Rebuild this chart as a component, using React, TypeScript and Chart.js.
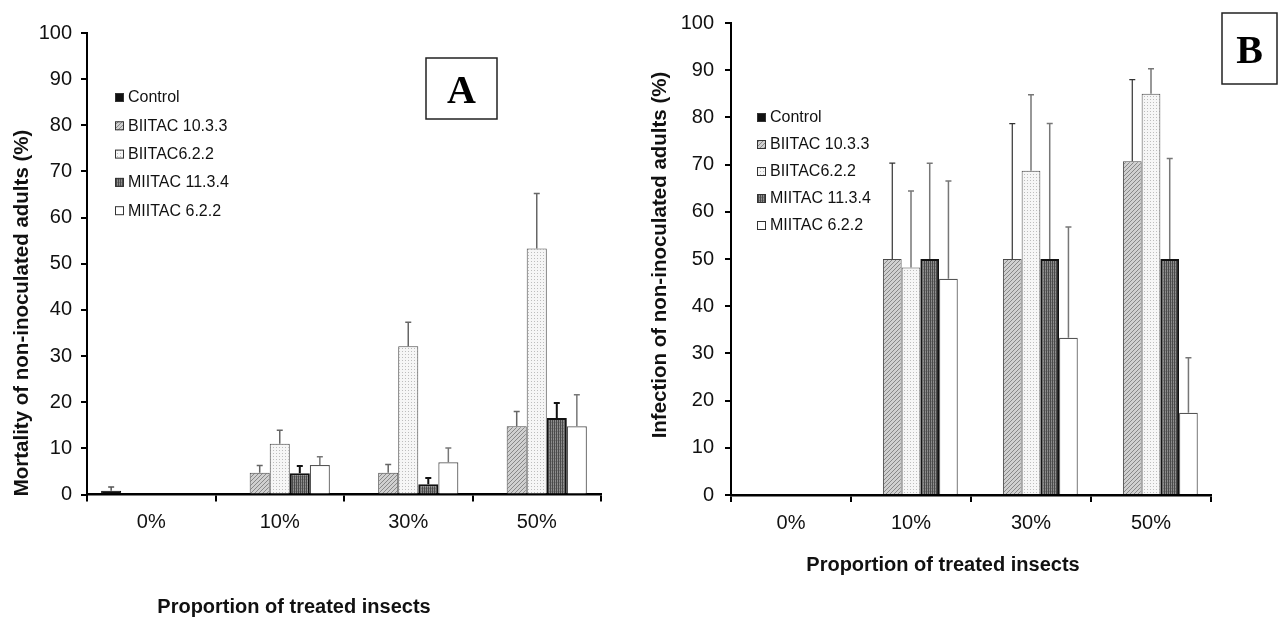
import React, { useEffect, useRef } from "react";
import { Chart, registerables } from "chart.js";

Chart.register(...registerables);

// ---- data ----
const categories = ["0%", "10%", "30%", "50%"];
const seriesNames = ["Control", "BIITAC 10.3.3", "BIITAC6.2.2", "MIITAC 11.3.4", "MIITAC 6.2.2"];
const yTickValues = [0, 10, 20, 30, 40, 50, 60, 70, 80, 90, 100];

// Panel A: mortality (%), mean and upper error
const mortControl = [0.8, 0, 0, 0];
const mortControlErr = [0.8, null, null, null];
const mortB1033 = [0, 4.7, 4.7, 14.8];
const mortB1033Err = [null, 1.6, 1.8, 3.2];
const mortB622 = [0, 11.0, 32.1, 53.3];
const mortB622Err = [null, 2.9, 5.2, 11.9];
const mortM1134 = [0, 4.6, 2.2, 16.6];
const mortM1134Err = [null, 1.6, 1.4, 3.2];
const mortM622 = [0, 6.4, 7.0, 14.8];
const mortM622Err = [null, 1.8, 3.1, 6.8];

// Panel B: infection (%), mean and upper error
const infControl = [0, 0, 0, 0];
const infControlErr = [null, null, null, null];
const infB1033 = [0, 50, 50, 70.7];
const infB1033Err = [null, 20.3, 28.7, 17.3];
const infB622 = [0, 48.2, 68.7, 85.0];
const infB622Err = [null, 16.2, 16.1, 5.3];
const infM1134 = [0, 50, 50, 50];
const infM1134Err = [null, 20.3, 28.7, 21.3];
const infM622 = [0, 45.8, 33.3, 17.4];
const infM622Err = [null, 20.7, 23.5, 11.7];

const SANS = "'Liberation Sans', Arial, sans-serif";
const SERIF = "'Liberation Serif', 'Times New Roman', serif";
const H = 639;

// ---- fill patterns ----
function makePattern(kind: string): CanvasPattern | string {
  const c = document.createElement("canvas");
  const g = c.getContext("2d")!;
  if (kind === "solid") return "#111111";
  if (kind === "white") return "#ffffff";
  if (kind === "hatch") {
    c.width = 4;
    c.height = 4;
    g.fillStyle = "#d0d0d0";
    g.fillRect(0, 0, 4, 4);
    g.strokeStyle = "#888888";
    g.lineWidth = 1;
    g.beginPath();
    g.moveTo(0, 4);
    g.lineTo(4, 0);
    g.moveTo(-1, 1);
    g.lineTo(1, -1);
    g.moveTo(3, 5);
    g.lineTo(5, 3);
    g.stroke();
  } else if (kind === "dots") {
    c.width = 3;
    c.height = 3;
    g.fillStyle = "#f6f6f6";
    g.fillRect(0, 0, 3, 3);
    g.fillStyle = "#bdbdbd";
    g.fillRect(0, 0, 1, 1);
  } else if (kind === "stripes") {
    c.width = 2;
    c.height = 3;
    g.fillStyle = "#8d8d8d";
    g.fillRect(0, 0, 2, 3);
    g.fillStyle = "#4a4a4a";
    g.fillRect(0, 0, 1, 3);
    g.fillStyle = "#767676";
    g.fillRect(1, 2, 1, 1);
  }
  return g.createPattern(c, "repeat")!;
}

const fillKinds = ["solid", "hatch", "dots", "stripes", "white"];
const borderColors = ["#000000", "#4a4a4a", "#4a4a4a", "#111111", "#555555"];
const borderWidths = [1, 1, 1, 2, 1.2];

// ---- plugins ----
const errorBars = {
  id: "errorBars",
  afterDatasetsDraw(chart: any) {
    const ctx = chart.ctx;
    const y = chart.scales.y;
    chart.data.datasets.forEach((ds: any, i: number) => {
      const meta = chart.getDatasetMeta(i);
      meta.data.forEach((bar: any, j: number) => {
        const e = ds.errors[j];
        if (e == null) return;
        const top = y.getPixelForValue(ds.data[j] + e);
        ctx.save();
        ctx.strokeStyle = ds.errorColor;
        ctx.lineWidth = ds.errorWidth;
        ctx.beginPath();
        ctx.moveTo(bar.x, bar.y);
        ctx.lineTo(bar.x, top);
        ctx.moveTo(bar.x - 3, top);
        ctx.lineTo(bar.x + 3, top);
        ctx.stroke();
        ctx.restore();
      });
    });
  },
};

interface Decor {
  yTitle: { text: string; x: number; y: number; size: number };
  xTitle: { text: string; x: number; y: number; size: number };
  legend: { x: number; y: number; step: number };
  badge: { text: string; x: number; y: number; w: number; h: number };
}

function makeDecor(d: Decor) {
  return {
    id: "decor",
    afterDraw(chart: any) {
      const ctx = chart.ctx;
      ctx.save();
      // axis titles
      ctx.fillStyle = "#111";
      ctx.textAlign = "center";
      ctx.textBaseline = "middle";
      ctx.font = `bold ${d.xTitle.size}px ${SANS}`;
      ctx.fillText(d.xTitle.text, d.xTitle.x, d.xTitle.y);
      ctx.save();
      ctx.translate(d.yTitle.x, d.yTitle.y);
      ctx.rotate(-Math.PI / 2);
      ctx.font = `bold ${d.yTitle.size}px ${SANS}`;
      ctx.fillText(d.yTitle.text, 0, 0);
      ctx.restore();

      // legend
      ctx.font = `16px ${SANS}`;
      ctx.textAlign = "left";
      chart.data.datasets.forEach((ds: any, i: number) => {
        const cy = d.legend.y + i * d.legend.step;
        ctx.fillStyle = ds.backgroundColor;
        ctx.fillRect(d.legend.x, cy - 4, 9, 9);
        ctx.strokeStyle = "#333";
        ctx.lineWidth = 1;
        ctx.strokeRect(d.legend.x + 0.5, cy - 3.5, 8, 8);
        ctx.fillStyle = "#111";
        ctx.fillText(ds.label, d.legend.x + 13, cy + 1);
      });

      // panel letter
      const b = d.badge;
      ctx.fillStyle = "#fff";
      ctx.fillRect(b.x, b.y, b.w, b.h);
      ctx.strokeStyle = "#222";
      ctx.lineWidth = 1.5;
      ctx.strokeRect(b.x, b.y, b.w, b.h);
      ctx.fillStyle = "#000";
      ctx.font = `bold 40px ${SERIF}`;
      ctx.textAlign = "center";
      ctx.textBaseline = "alphabetic";
      ctx.fillText(b.text, b.x + b.w / 2, b.y + b.h / 2 + 14);
      ctx.restore();
    },
  };
}

interface PanelSpec {
  width: number;
  area: { left: number; right: number; top: number; bottom: number };
  yTickPadding: number;
  values: number[][];
  errors: (number | null)[][];
  errorColors: string[];
  errorWidths: number[];
  decor: Decor;
}

function Panel({ spec, left }: { spec: PanelSpec; left: number }) {
  const ref = useRef<HTMLCanvasElement>(null);
  useEffect(() => {
    const a = spec.area;
    const tickFont = { family: SANS, size: 20 };
    const chart = new Chart(ref.current!, {
      type: "bar",
      data: {
        labels: categories,
        datasets: seriesNames.map((name, i) => ({
          label: name,
          data: spec.values[i],
          errors: spec.errors[i],
          errorColor: spec.errorColors[i],
          errorWidth: spec.errorWidths[i],
          backgroundColor: makePattern(fillKinds[i]),
          borderColor: borderColors[i],
          // empty (zero) bars leave no outline on the axis
          borderWidth: (c: any) => (c.raw ? borderWidths[i] : 0),
          categoryPercentage: 0.78,
          barPercentage: 1.0,
        })) as any,
      },
      options: {
        responsive: false,
        animation: false,
        events: [],
        layout: { padding: { left: 0, top: a.top, right: spec.width - a.right, bottom: 0 } },
        plugins: { legend: { display: false }, tooltip: { enabled: false }, title: { display: false } },
        scales: {
          x: {
            grid: { drawOnChartArea: false, offset: true, color: "#000", lineWidth: 2, tickLength: 7 },
            border: { color: "#000", width: 2.5 },
            ticks: { font: tickFont, color: "#111", padding: 9 },
            afterFit: (s: any) => {
              s.height = H - a.bottom;
            },
          },
          y: {
            min: 0,
            max: 100,
            afterBuildTicks: (s: any) => {
              s.ticks = yTickValues.map((v) => ({ value: v }));
            },
            ticks: { font: tickFont, color: "#111", padding: spec.yTickPadding },
            grid: { drawOnChartArea: false, color: "#000", lineWidth: 2, tickLength: 6 },
            border: { color: "#000", width: 2 },
            afterFit: (s: any) => {
              s.width = a.left;
            },
          },
        },
      } as any,
      plugins: [errorBars, makeDecor(spec.decor)] as any,
    });
    return () => chart.destroy();
  }, [spec]);
  return (
    <canvas
      ref={ref}
      width={spec.width}
      height={H}
      style={{ position: "absolute", left, top: 0, width: spec.width, height: H }}
    />
  );
}

const panelA: PanelSpec = {
  width: 640,
  area: { left: 87, right: 601, top: 33, bottom: 494.5 },
  yTickPadding: 9,
  values: [mortControl, mortB1033, mortB622, mortM1134, mortM622],
  errors: [mortControlErr, mortB1033Err, mortB622Err, mortM1134Err, mortM622Err],
  errorColors: ["#555", "#666", "#666", "#111", "#777"],
  errorWidths: [1.5, 1.5, 1.5, 2, 1.5],
  decor: {
    yTitle: { text: "Mortality of non-inoculated adults (%)", x: 22, y: 313, size: 20.5 },
    xTitle: { text: "Proportion of treated insects", x: 294, y: 607, size: 20 },
    legend: { x: 115, y: 97, step: 28.3 },
    badge: { text: "A", x: 426, y: 58, w: 71, h: 61 },
  },
};

const panelB: PanelSpec = {
  width: 642,
  area: { left: 91, right: 571, top: 23, bottom: 495 },
  yTickPadding: 11,
  values: [infControl, infB1033, infB622, infM1134, infM622],
  errors: [infControlErr, infB1033Err, infB622Err, infM1134Err, infM622Err],
  errorColors: ["#222", "#333", "#777", "#777", "#777"],
  errorWidths: [1.2, 1.2, 1.5, 1.5, 1.5],
  decor: {
    yTitle: { text: "Infection of non-inoculated adults (%)", x: 20, y: 255, size: 20.5 },
    xTitle: { text: "Proportion of treated insects", x: 303, y: 565, size: 20 },
    legend: { x: 117, y: 117, step: 27 },
    badge: { text: "B", x: 582, y: 13, w: 55, h: 71 },
  },
};

export default function App() {
  return (
    <div style={{ position: "fixed", left: 0, top: 0, width: 1282, height: H, background: "#fff" }}>
      <Panel spec={panelA} left={0} />
      <Panel spec={panelB} left={640} />
    </div>
  );
}
